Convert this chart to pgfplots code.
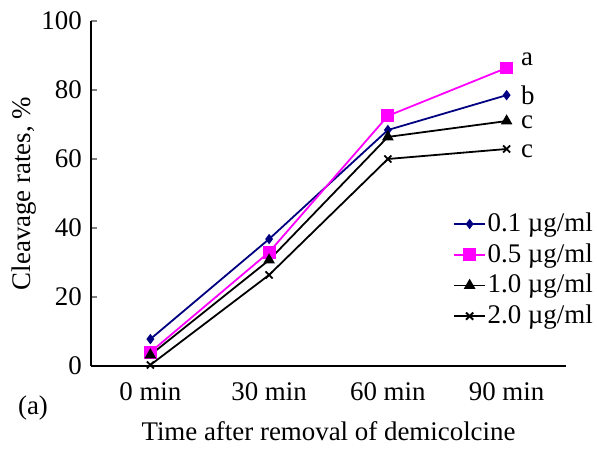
\documentclass[border=0pt]{standalone}
\usepackage{fontspec}
\setmainfont{Liberation Serif}
\usepackage{pgfplots}
\pgfplotsset{compat=1.18}
\definecolor{navyline}{RGB}{0,0,128}
\definecolor{magline}{RGB}{255,0,255}
\begin{document}
\fontsize{27}{32}\selectfont
\begin{tikzpicture}
\begin{axis}[
    scale only axis,
    width=475bp, height=345bp,
    axis lines=left,
    axis line style={-, line width=1.6pt},
    xmin=-0.5, xmax=3.5,
    ymin=0, ymax=100,
    ytick={0,20,...,100},
    xtick={0,1,2,3},
    xticklabels={0 min,30 min,60 min,90 min},
    x tick style={draw=none},
    extra x ticks={0.5,1.5,2.5,3.5},
    extra x tick labels={},
    extra x tick style={major tick length=6bp, tick style={draw=black, line width=1.4pt}},
    y tick style={line width=1.4pt},
    major tick length=6bp,
    tick align=inside,
    /pgf/number format/assume math mode=true,
    tick label style={font=\fontsize{27}{32}\selectfont},
    xticklabel style={yshift=-7bp},
    label style={font=\fontsize{27}{32}\selectfont},
    xlabel={Time after removal of demicolcine},
    xlabel style={yshift=-3bp},
    ylabel={Cleavage rates, \%},
    ylabel style={at={(rel axis cs:-0.141,0.5)}, anchor=center, inner sep=0pt},
    clip=false,
    legend style={
        at={(0.762,0.278)}, anchor=west,
        draw=none, fill=none, inner sep=0pt,
        nodes={inner sep=1.5bp},
        font=\fontsize{27}{32}\selectfont,
        row sep=5bp,
        cells={anchor=west}
    },
    legend image code/.code={
        \draw[mark repeat=2,mark phase=2] plot coordinates {(0cm,0cm) (0.55cm,0cm) (1.1cm,0cm)};
    },
]
\addplot[color=navyline, line width=1.8pt, mark=diamond*, mark size=3.8pt] coordinates {
    (0,7.8) (1,36.8) (2,68.4) (3,78.5)
};
\addplot[color=magline, line width=1.8pt, mark=square*, mark size=5.5pt] coordinates {
    (0,4.0) (1,33.0) (2,72.5) (3,86.4)
};
\addplot[color=black, line width=1.8pt, mark=triangle*, mark size=5pt] coordinates {
    (0,3.2) (1,30.7) (2,66.4) (3,71.0)
};
\addplot[color=black, line width=1.8pt, mark=x, mark size=5pt] coordinates {
    (0,0.3) (1,26.4) (2,60.0) (3,62.9)
};
\legend{0.1 µg/ml, 0.5 µg/ml, 1.0 µg/ml, 2.0 µg/ml}
\node[anchor=west, inner sep=0pt] at (axis cs:3.12,89.0) {a};
\node[anchor=west, inner sep=0pt] at (axis cs:3.12,78.5) {b};
\node[anchor=west, inner sep=0pt] at (axis cs:3.12,70.5) {c};
\node[anchor=west, inner sep=0pt] at (axis cs:3.12,62.3) {c};
\node[anchor=west, inner sep=0pt] at (rel axis cs:-0.154,-0.122) {(a)};
\end{axis}
\path ([shift={(-91bp,-79bp)}]current axis.south west) rectangle ([shift={(506bp,366bp)}]current axis.south west);
\end{tikzpicture}
\end{document}
